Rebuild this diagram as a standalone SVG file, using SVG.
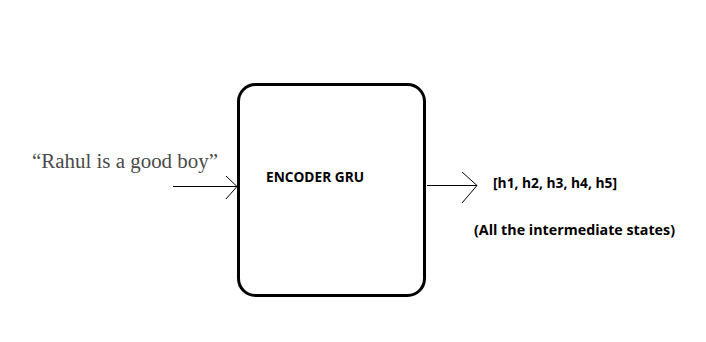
<svg xmlns="http://www.w3.org/2000/svg" width="706" height="342" viewBox="0 0 706 342">
  <style>
    .box { fill: #ffffff; stroke: #000000; stroke-width: 3; }
    .wire { fill: none; stroke: #000000; stroke-width: 1; }
    .lbl { font-family: "Open Sans", "Liberation Sans", sans-serif; font-weight: bold; font-size: 14.5px; fill: #000000; }
    .quote { font-family: "Liberation Serif", "DejaVu Serif", serif; font-size: 20px; fill: #4a4a4a; }
  </style>
  <rect width="706" height="342" fill="#ffffff"/>

  <g id="input-text">
    <text class="quote" x="32" y="168" textLength="186" lengthAdjust="spacingAndGlyphs">“Rahul is a good boy”</text>
  </g>

  <g id="encoder-gru">
    <rect class="box" x="238.5" y="84.5" width="186" height="211" rx="17" ry="17"/>
    <text class="lbl" x="266" y="182" textLength="98" lengthAdjust="spacingAndGlyphs">ENCODER GRU</text>
  </g>

  <g id="hidden-states">
    <text class="lbl" x="493" y="187.5" textLength="124" lengthAdjust="spacingAndGlyphs">[h1, h2, h3, h4, h5]</text>
    <text class="lbl" x="474" y="235" textLength="201" lengthAdjust="spacingAndGlyphs">(All the intermediate states)</text>
  </g>

  <g id="connectors">
    <!-- sentence into encoder -->
    <line class="wire" x1="173" y1="186.5" x2="237" y2="186.5"/>
    <polyline class="wire" points="226,176 237,186.5 226,199"/>
    <!-- encoder out to states -->
    <line class="wire" x1="427" y1="185.5" x2="477" y2="185.5"/>
    <polyline class="wire" points="462,172 477,185.5 462,203"/>
  </g>
</svg>
